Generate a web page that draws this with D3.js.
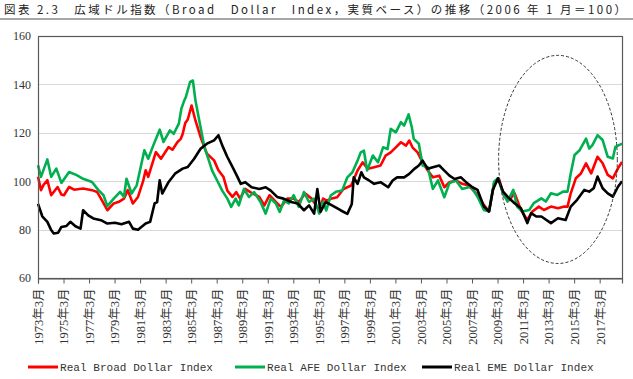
<!DOCTYPE html>
<html>
<head>
<meta charset="utf-8">
<script src="https://cdn.jsdelivr.net/npm/d3@7"></script>
<style>
  body { margin: 0; background: #fff; }
  svg { display: block; }
</style>
</head>
<body>
<svg id="chart" width="633" height="379"></svg>
<script>
// values, [decimal year, index]
const broadIndex = [
  [1973.17,101.8],[1973.4,96.3],[1973.6,98.5],[1973.9,100.4],[1974.2,94.2],[1974.7,97.6],[1975.0,94.5],[1975.2,94.2],
  [1975.6,97.6],[1976.0,96.5],[1976.7,97.0],[1977.4,96.3],[1977.8,95.5],[1978.1,92.8],[1978.6,88.0],[1979.1,90.8],
  [1979.5,91.5],[1979.9,92.8],[1980.2,96.3],[1980.6,90.8],[1981.0,93.5],[1981.4,100.0],[1981.6,104.5],[1981.8,101.8],
  [1982.4,112.0],[1982.8,109.3],[1983.4,114.1],[1983.7,113.0],[1984.1,116.2],[1984.35,117.5],[1984.5,119.5],[1984.7,124.0],
  [1984.9,125.5],[1985.2,131.3],[1985.5,125.1],[1985.9,118.3],[1986.4,111.4],[1986.96,108.6],[1987.3,104.5],[1987.7,101.7],
  [1988.0,96.1],[1988.4,93.5],[1988.7,95.5],[1989.0,92.8],[1989.4,96.8],[1989.8,95.5],[1990.5,93.5],[1990.9,90.0],
  [1991.3,94.2],[1991.8,91.4],[1992.2,89.4],[1992.7,92.8],[1993.2,92.8],[1993.6,91.4],[1994.1,94.9],[1994.6,92.8],
  [1995.2,88.0],[1995.5,92.8],[1995.8,92.0],[1996.1,92.7],[1996.6,93.4],[1997.1,96.8],[1997.7,98.2],[1998.2,104.4],
  [1998.6,107.8],[1999.0,105.1],[1999.5,105.8],[2000.0,106.5],[2000.4,110.6],[2000.8,111.9],[2001.2,114.0],[2001.6,116.1],
  [2002.0,114.7],[2002.25,116.8],[2002.5,114.0],[2002.9,111.9],[2003.3,107.8],[2003.7,104.4],[2004.1,101.6],[2004.6,102.3],
  [2005.0,97.5],[2005.4,99.6],[2005.9,100.3],[2006.4,98.9],[2006.9,98.2],[2007.4,95.5],[2007.6,94.3],[2008.0,90.9],
  [2008.5,87.5],[2008.9,99.1],[2009.3,100.5],[2009.7,93.6],[2010.1,92.3],[2010.5,95.0],[2011.0,88.1],[2011.5,84.0],
  [2011.9,87.5],[2012.4,89.5],[2012.8,88.1],[2013.35,89.5],[2013.9,88.8],[2014.4,89.5],[2014.65,89.5],[2014.9,95.0],
  [2015.3,101.2],[2015.7,103.2],[2016.1,107.4],[2016.5,103.2],[2017.0,110.1],[2017.4,107.4],[2017.8,102.6],[2018.2,101.2],
  [2018.6,105.3],[2018.92,108.0]
];

const afeIndex = [
  [1973.17,106.6],[1973.4,101.8],[1973.9,109.0],[1974.2,101.8],[1974.6,105.2],[1975.0,99.3],[1975.6,103.8],[1976.2,102.5],
  [1976.7,101.0],[1977.4,99.7],[1977.9,96.3],[1978.3,94.2],[1978.6,89.7],[1979.1,92.8],[1979.6,95.6],[1979.9,93.5],
  [1980.1,101.0],[1980.5,94.9],[1980.9,98.3],[1981.5,112.8],[1981.8,109.3],[1982.2,114.8],[1982.7,121.3],[1983.0,116.2],
  [1983.5,121.0],[1983.8,119.6],[1984.2,123.8],[1984.4,130.0],[1984.6,133.0],[1984.75,134.8],[1985.08,141.0],[1985.3,141.6],
  [1985.5,133.4],[1985.8,125.1],[1986.2,114.1],[1986.55,108.6],[1986.8,104.5],[1987.2,100.3],[1987.6,96.1],[1988.0,92.8],
  [1988.3,89.4],[1988.65,92.8],[1988.9,90.0],[1989.3,96.8],[1989.7,93.5],[1990.1,95.5],[1990.6,91.4],[1991.0,86.6],
  [1991.4,92.8],[1991.8,90.8],[1992.1,87.3],[1992.45,92.1],[1992.8,90.8],[1993.2,94.2],[1993.6,89.4],[1994.0,95.5],
  [1994.4,91.4],[1994.8,92.8],[1995.2,86.6],[1995.5,91.5],[1995.75,87.9],[1996.1,94.1],[1996.5,95.6],[1997.0,96.2],
  [1997.4,101.6],[1997.8,103.7],[1998.2,108.5],[1998.45,111.9],[1998.7,112.6],[1998.95,104.4],[1999.4,110.6],[1999.8,107.8],
  [2000.2,114.0],[2000.55,113.3],[2000.8,121.6],[2001.2,120.2],[2001.6,124.4],[2001.85,123.0],[2002.2,127.6],[2002.45,122.3],
  [2002.6,117.5],[2003.0,115.5],[2003.3,106.5],[2003.7,105.8],[2004.1,96.8],[2004.5,100.3],[2005.0,93.4],[2005.4,99.2],
  [2005.9,100.3],[2006.4,96.8],[2006.9,97.5],[2007.1,97.7],[2007.6,93.6],[2008.1,88.1],[2008.5,87.5],[2008.9,99.8],
  [2009.2,101.2],[2009.6,95.0],[2009.95,91.6],[2010.4,96.4],[2010.7,89.5],[2011.1,87.5],[2011.65,88.1],[2012.0,90.9],
  [2012.6,92.9],[2012.95,91.6],[2013.35,95.0],[2013.85,94.3],[2014.3,95.7],[2014.65,95.7],[2014.9,103.2],[2015.2,110.8],
  [2015.6,112.8],[2016.1,117.6],[2016.35,113.5],[2016.6,114.9],[2017.0,119.0],[2017.4,117.0],[2017.8,110.1],[2018.2,109.4],
  [2018.4,114.2],[2018.92,115.5]
];

const emeIndex = [
  [1973.17,90.6],[1973.5,85.5],[1973.9,83.2],[1974.2,79.8],[1974.4,78.4],[1974.75,78.7],[1975.0,81.1],[1975.4,81.5],
  [1975.7,83.2],[1976.1,81.4],[1976.5,80.4],[1976.7,88.0],[1977.1,85.9],[1977.5,84.6],[1978.1,83.9],[1978.6,82.5],
  [1979.2,82.8],[1979.7,82.2],[1980.3,83.2],[1980.6,80.4],[1981.0,79.9],[1981.6,82.5],[1981.95,83.2],[1982.3,90.8],
  [1982.5,91.4],[1982.7,100.4],[1982.9,94.9],[1983.4,99.7],[1983.9,103.1],[1984.5,105.2],[1984.9,105.9],[1985.4,109.3],
  [1985.9,113.4],[1986.4,115.5],[1986.96,116.9],[1987.3,119.0],[1987.6,114.8],[1988.0,110.0],[1988.4,105.9],[1988.8,101.7],
  [1989.05,98.9],[1989.4,99.6],[1989.9,97.5],[1990.5,96.8],[1991.0,97.5],[1991.4,96.1],[1991.9,93.5],[1992.4,92.8],
  [1993.0,91.4],[1993.5,90.8],[1994.0,88.0],[1994.4,90.0],[1994.8,86.6],[1995.05,96.8],[1995.3,87.3],[1995.7,91.4],
  [1996.2,90.0],[1996.9,87.9],[1997.4,86.5],[1997.75,90.6],[1997.9,101.6],[1998.2,98.9],[1998.5,103.7],[1998.7,101.6],
  [1999.1,100.3],[1999.5,98.9],[2000.0,99.6],[2000.6,97.5],[2000.95,100.3],[2001.3,101.6],[2001.85,101.6],[2002.25,103.0],
  [2002.65,105.1],[2003.0,106.5],[2003.3,108.5],[2003.7,105.1],[2004.1,105.8],[2004.6,106.5],[2005.0,104.4],[2005.4,102.3],
  [2005.8,100.9],[2006.3,101.6],[2006.7,99.6],[2007.2,97.5],[2007.6,96.4],[2008.1,89.5],[2008.5,87.5],[2008.8,96.4],
  [2009.2,101.2],[2009.6,95.7],[2009.95,93.6],[2010.5,90.9],[2011.0,88.8],[2011.5,82.7],[2011.8,86.8],[2012.2,85.4],
  [2012.6,85.4],[2013.35,82.7],[2013.9,84.7],[2014.5,84.0],[2014.9,89.5],[2015.4,92.3],[2015.96,96.4],[2016.35,95.7],
  [2016.7,97.1],[2017.0,101.9],[2017.4,97.1],[2017.8,95.0],[2018.2,93.6],[2018.6,97.7],[2018.92,100.0]
];

const seriesNames = ["Real Broad Dollar Index", "Real AFE Dollar Index", "Real EME Dollar Index"];
const seriesColors = ["#ff0000", "#00b050", "#000000"];
const tickYears = d3.range(1973, 2018, 2);   // 1973年3月 ... 2017年3月
const yTicks = [60, 80, 100, 120, 140, 160];
const titleText = "図表 2.3　広域ドル指数（Broad　Dollar　Index，実質ベース）の推移（2006 年 1 月＝100）";

const svg = d3.select("#chart");
const plot = { left: 38, right: 622, top: 36, bottom: 278 };

const x = d3.scaleLinear()
  .domain([1973 + 2 / 12, 2018 + 11 / 12])
  .range([plot.left, plot.right]);
const y = d3.scaleLinear()
  .domain([60, 160])
  .range([plot.bottom, plot.top]);

// title and rule
svg.append("text")
  .attr("x", 4).attr("y", 14)
  .attr("textLength", 622).attr("lengthAdjust", "spacing")
  .style("font-family", "'Noto Sans CJK JP', sans-serif")
  .style("font-size", "11.5px")
  .style("fill", "#222")
  .text(titleText);
svg.append("line")
  .attr("x1", 0).attr("x2", 633).attr("y1", 19).attr("y2", 19)
  .attr("stroke", "#8a8a8a").attr("stroke-width", 1.5);

// gridlines
svg.append("g")
  .selectAll("line")
  .data(yTicks.filter(d => d > 60 && d < 160))
  .enter().append("line")
    .attr("x1", plot.left).attr("x2", plot.right)
    .attr("y1", d => Math.round(y(d)) + 0.5).attr("y2", d => Math.round(y(d)) + 0.5)
    .attr("stroke", "#d9d9d9").attr("stroke-width", 1);

// y axis labels
const yAxis = svg.append("g")
  .attr("transform", `translate(${plot.left},0)`)
  .call(d3.axisLeft(y).tickValues(yTicks).tickSize(0).tickPadding(7));
yAxis.select(".domain").remove();
yAxis.selectAll("text")
  .style("font-family", "'Liberation Serif', serif")
  .style("font-size", "12px")
  .style("fill", "#333");

// lines
const line = d3.line()
  .x(d => x(d[0]))
  .y(d => y(d[1]));

[broadIndex, afeIndex, emeIndex].forEach((s, i) => {
  svg.append("path")
    .datum(s)
    .attr("fill", "none")
    .attr("stroke", seriesColors[i])
    .attr("stroke-width", 2.6)
    .attr("stroke-linejoin", "round")
    .attr("d", line);
});

// plot border
svg.append("rect")
  .attr("x", plot.left + 0.5).attr("y", plot.top + 0.5)
  .attr("width", plot.right - plot.left).attr("height", plot.bottom - plot.top)
  .attr("fill", "none").attr("stroke", "#595959").attr("stroke-width", 1.2);

// x axis
const xAxis = svg.append("g")
  .attr("transform", `translate(0,${plot.bottom + 0.5})`)
  .call(d3.axisBottom(x)
    .tickValues(tickYears.map(yr => yr + 2 / 12))
    .tickSize(5)
    .tickFormat(v => `${Math.round(v - 2 / 12)}年3月`));
xAxis.select(".domain").attr("stroke", "#595959").attr("stroke-width", 1.2);
xAxis.selectAll(".tick line").attr("stroke", "#595959");
xAxis.selectAll("text")
  .attr("transform", "rotate(-90)")
  .attr("text-anchor", "end")
  .attr("x", -10).attr("y", 0).attr("dy", "0.35em")
  .style("font-family", "'Liberation Serif', 'Noto Sans CJK JP', serif")
  .style("font-size", "12.5px")
  .style("fill", "#333");

// dashed ellipse highlighting recent period
const highlight = { year: 2013.9, value: 109, yearRadius: 4.65, valueRadius: 43 };
svg.append("ellipse")
  .attr("cx", x(highlight.year))
  .attr("cy", y(highlight.value))
  .attr("rx", x(highlight.year + highlight.yearRadius) - x(highlight.year))
  .attr("ry", y(highlight.value - highlight.valueRadius) - y(highlight.value))
  .attr("fill", "none")
  .attr("stroke", "#333")
  .attr("stroke-width", 1)
  .attr("stroke-dasharray", "3,2");

// legend
const legendX = [28, 235, 422];
const legend = svg.append("g").attr("transform", "translate(0,367)");
seriesNames.forEach((name, i) => {
  legend.append("line")
    .attr("x1", legendX[i]).attr("x2", legendX[i] + 30)
    .attr("y1", 0).attr("y2", 0)
    .attr("stroke", seriesColors[i]).attr("stroke-width", 3);
  legend.append("text")
    .attr("x", legendX[i] + 32).attr("y", 4)
    .attr("textLength", name.length * 6.65).attr("lengthAdjust", "spacing")
    .style("font-family", "'Liberation Mono', monospace")
    .style("font-size", "11px")
    .style("fill", "#333")
    .text(name);
});
</script>
</body>
</html>
